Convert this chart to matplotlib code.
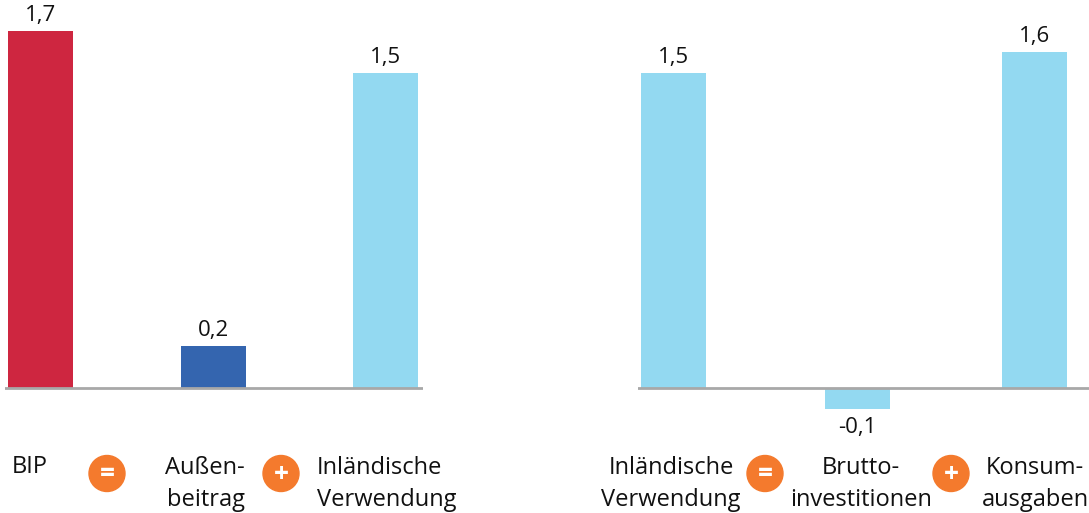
import matplotlib
matplotlib.use('Agg')
import matplotlib.pyplot as plt
from matplotlib.patches import Circle

plt.rcParams['font.family'] = ['Open Sans', 'DejaVu Sans']

left_cats = ['BIP', 'Außen-\nbeitrag', 'Inländische\nVerwendung']
left_vals = [1.7, 0.2, 1.5]
left_cols = ['#CE2640', '#3465AF', '#93D9F1']
left_labels = ['1,7', '0,2', '1,5']
right_cats = ['Inländische\nVerwendung', 'Brutto-\ninvestitionen', 'Konsum-\nausgaben']
right_vals = [1.5, -0.1, 1.6]
right_cols = ['#93D9F1', '#93D9F1', '#93D9F1']
right_labels = ['1,5', '-0,1', '1,6']
ops = ['=', '+']

W, H = 1089, 513
fig = plt.figure(figsize=(W/100, H/100), dpi=100)
bg = fig.add_axes([0, 0, 1, 1]); bg.set_xlim(0, W); bg.set_ylim(H, 0); bg.axis('off')

y0 = 388; unit = (388-31)/1.7

def panel(x0, x1, xs, vals, cols, labels):
    ax = fig.add_axes([x0/W, 1-(y0+40)/H, (x1-x0)/W, (y0+40)/H])
    ax.set_xlim(x0, x1)
    ax.set_ylim(-40/unit, y0/unit)
    ax.axis('off')
    ax.bar(xs, vals, width=65, color=cols, zorder=2)
    ax.axhline(0, color='#A8A8A8', lw=2, zorder=3)
    for x, v, l in zip(xs, vals, labels):
        if v >= 0:
            ax.annotate(l, (x, v), xytext=(0, 3.5), textcoords='offset points', ha='center', va='bottom', fontsize=16, color='#111111', clip_on=False)
        else:
            ax.annotate(l, (x, v), xytext=(0, -6), textcoords='offset points', ha='center', va='top', fontsize=16, color='#111111')

panel(5, 423, [40.5, 213.5, 385.5], left_vals, left_cols, left_labels)
panel(638, 1089, [673.5, 857.5, 1034.5], right_vals, right_cols, right_labels)

def cap(x, y, s, ha='center'):
    bg.text(x, y, s, ha=ha, va='center', ma=ha, fontsize=17, color='#111111', linespacing=1.42)

cap(12, 467, left_cats[0], 'left')
cap(245, 484, left_cats[1], 'right')
cap(317, 484, left_cats[2], 'left')
cap(671, 484, right_cats[0])
cap(861, 484, right_cats[1])
cap(1035, 484, right_cats[2])

for x, y, s in [(107, 473.5, ops[0]), (281, 473.5, ops[1]), (765, 473.5, ops[0]), (951, 473.5, ops[1])]:
    bg.add_patch(Circle((x, y), 18, color='#F47A2D', zorder=3))
    bg.text(x, y+1, s, ha='center', va='center', color='white', fontsize=19, fontweight='bold', zorder=4)

fig.savefig('out.png', dpi=100)
